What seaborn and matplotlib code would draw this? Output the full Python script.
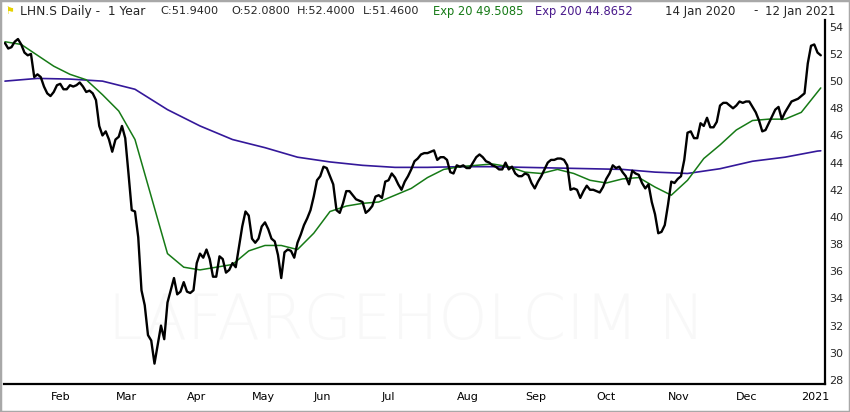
import numpy as np
import pandas as pd
import matplotlib
matplotlib.use("Agg")
import matplotlib.pyplot as plt
import seaborn as sns
from matplotlib.patches import Rectangle

# SIX trading calendar, 14 Jan 2020 - 12 Jan 2021
holidays = ["2020-04-10", "2020-04-13", "2020-05-01", "2020-05-21", "2020-06-01",
            "2020-12-24", "2020-12-25", "2020-12-31", "2021-01-01"]
days = pd.bdate_range("2020-01-14", "2021-01-12").drop(pd.to_datetime(holidays))

# daily close
close = [
    52.8, 52.4, 52.5, 52.9, 53.1, 52.7, 52.1, 51.9, 52.0, 50.3,
    50.5, 50.3, 49.6, 49.1, 48.9, 49.2, 49.7, 49.8, 49.4, 49.4,
    49.7, 49.6, 49.7, 49.9, 49.6, 49.2, 49.3, 49.1, 48.6, 46.7,
    46.0, 46.3, 45.7, 44.8, 45.7, 45.9, 46.7, 45.8, 43.2, 40.5,
    40.4, 38.5, 34.6, 33.5, 31.3, 30.9, 29.2, 30.6, 32.0, 31.0,
    33.7, 34.6, 35.5, 34.3, 34.5, 35.2, 34.5, 34.4, 34.6, 36.6,
    37.3, 37.0, 37.6, 36.9, 35.6, 35.6, 37.1, 36.9, 35.9, 36.1,
    36.6, 36.3, 37.8, 39.3, 40.4, 40.1, 38.4, 38.1, 38.4, 39.3,
    39.6, 39.1, 38.4, 38.2, 37.2, 35.5, 37.4, 37.6, 37.5, 37.0,
    38.1, 38.7, 39.4, 39.9, 40.5, 41.5, 42.7, 43.0, 43.7, 43.6,
    43.0, 42.4, 40.5, 40.3, 41.0, 41.9, 41.9, 41.6, 41.3, 41.2,
    41.1, 40.3, 40.5, 40.8, 41.5, 41.6, 41.4, 42.6, 42.7, 43.2,
    42.9, 42.4, 42.0, 42.6, 43.0, 43.5, 44.1, 44.3, 44.6, 44.7,
    44.7, 44.8, 44.9, 44.2, 44.4, 44.4, 44.2, 43.3, 43.2, 43.8,
    43.7, 43.8, 43.6, 43.6, 44.0, 44.4, 44.6, 44.4, 44.1, 44.0,
    43.8, 43.7, 43.5, 43.5, 44.0, 43.5, 43.7, 43.2, 43.0, 43.0,
    43.2, 43.1, 42.5, 42.1, 42.6, 43.0, 43.5, 44.0, 44.2, 44.2,
    44.3, 44.3, 44.2, 43.8, 42.0, 42.1, 42.0, 41.4, 41.9, 42.3,
    42.0, 42.0, 41.9, 41.8, 42.2, 42.8, 43.2, 43.8, 43.6, 43.7,
    43.3, 43.0, 42.4, 43.4, 43.2, 43.1, 42.5, 42.1, 42.4, 41.1,
    40.2, 38.8, 38.9, 39.4, 40.9, 42.6, 42.5, 42.8, 43.0, 44.2,
    46.2, 46.3, 45.8, 45.8, 46.9, 46.7, 47.3, 46.6, 46.6, 47.0,
    48.2, 48.4, 48.4, 48.2, 48.0, 48.2, 48.5, 48.4, 48.5, 48.5,
    48.1, 47.7, 47.1, 46.3, 46.4, 46.9, 47.4, 47.9, 48.1, 47.2,
    47.7, 48.1, 48.5, 48.6, 48.7, 48.9, 49.1, 51.3, 52.6, 52.7,
    52.1, 51.9,
]

# Exp 20 read every 5th session (+ last one)
ema20 = [
    52.9, 52.7, 51.9, 51.1, 50.5, 50.1, 49.0, 47.8, 45.7, 41.5,
    37.3, 36.3, 36.1, 36.3, 36.5, 37.5, 37.9, 37.9, 37.6, 38.8,
    40.4, 40.8, 41.0, 41.1, 41.6, 42.1, 42.9, 43.5, 43.7, 43.8,
    43.9, 43.7, 43.3, 43.2, 43.5, 43.2, 42.7, 42.5, 42.8, 42.9,
    42.2, 41.6, 42.7, 44.3, 45.3, 46.4, 47.1, 47.2, 47.2, 47.7,
    49.2, 49.5,
]

# Exp 200 read every 10th session (+ last one)
ema200 = [
    50.0, 50.2, 50.15, 50.0, 49.4, 47.9, 46.7, 45.7, 45.1, 44.4,
    44.05, 43.8, 43.65, 43.65, 43.7, 43.7, 43.65, 43.6, 43.55, 43.5,
    43.3, 43.2, 43.55, 44.1, 44.4, 44.85, 44.87,
]

month_labels = ["Feb", "Mar", "Apr", "May", "Jun", "Jul", "Aug",
                "Sep", "Oct", "Nov", "Dec", "2021"]
month_starts = pd.date_range("2020-02-01", "2021-01-01", freq="MS")

n = len(days)
x_all = np.arange(n)
x20 = np.r_[np.arange(0, n - 1, 5), n - 1]
x200 = np.r_[np.arange(0, n - 1, 10), n - 1]
tick_pos = [int(np.argmax(days >= m)) for m in month_starts]

sns.set_style("white")
plt.rcParams["font.family"] = ["DejaVu Sans"]

fig = plt.figure(figsize=(8.5, 4.12), dpi=100)
ax = fig.add_axes([4 / 850, 28 / 412, 821 / 850, 364 / 412])

# faint watermark
ax.text(0.49, 0.169, "LAFARGEHOLCIM N", transform=ax.transAxes, ha="center",
        va="center", fontsize=45, fontweight="light", color="#f8f8f8", zorder=0)

sns.lineplot(x=x200, y=ema200, color="#34189a", lw=1.2, ax=ax)
sns.lineplot(x=x20, y=ema20, color="#167a16", lw=1.1, ax=ax)
sns.lineplot(x=x_all, y=close, color="black", lw=1.7, ax=ax)

ax.set_xlim(-0.3, 252.3)
ax.set_ylim(27.7, 54.5)
ax.set_xlabel("")
ax.set_ylabel("")

ax.set_xticks(tick_pos)
ax.set_xticklabels(month_labels)
for lbl in ax.get_xticklabels():
    lbl.set_horizontalalignment("left")
ax.tick_params(axis="x", length=4, width=1.5, direction="out", labelsize=8,
               pad=2, colors="black")

ax.yaxis.tick_right()
ax.set_yticks(range(28, 55, 2))
ax.tick_params(axis="y", length=0, labelsize=8, pad=3)

for s in ["left", "top"]:
    ax.spines[s].set_visible(False)
for s in ["right", "bottom"]:
    ax.spines[s].set_color("black")
    ax.spines[s].set_linewidth(1.6)

# header line
ty = 1 - 11 / 412
fig.text(5 / 850, ty, "\u2691", color="#e6d200", fontsize=7, va="center")
fig.text(20 / 850, ty, "LHN.S Daily -  1 Year", fontsize=8.8, va="center")
fig.text(160 / 850, ty, "C:51.9400", fontsize=8.1, va="center")
fig.text(231 / 850, ty, "O:52.0800", fontsize=8.1, va="center")
fig.text(297 / 850, ty, "H:52.4000", fontsize=8.1, va="center")
fig.text(363 / 850, ty, "L:51.4600", fontsize=8.1, va="center")
fig.text(433 / 850, ty, "Exp 20 49.5085", fontsize=8.3, va="center", color="#167a16")
fig.text(535 / 850, ty, "Exp 200 44.8652", fontsize=8.3, va="center", color="#4a1a8c")
fig.text(665 / 850, ty, "14 Jan 2020", fontsize=8.5, va="center")
fig.text(753 / 850, ty, "-", fontsize=8.5, va="center")
fig.text(765 / 850, ty, "12 Jan 2021", fontsize=8.5, va="center")

fig.add_artist(Rectangle((0, 0), 1, 1, transform=fig.transFigure, fill=False,
                         edgecolor="#a8a8a8", lw=2.5))

fig.savefig("out.png", dpi=100)
